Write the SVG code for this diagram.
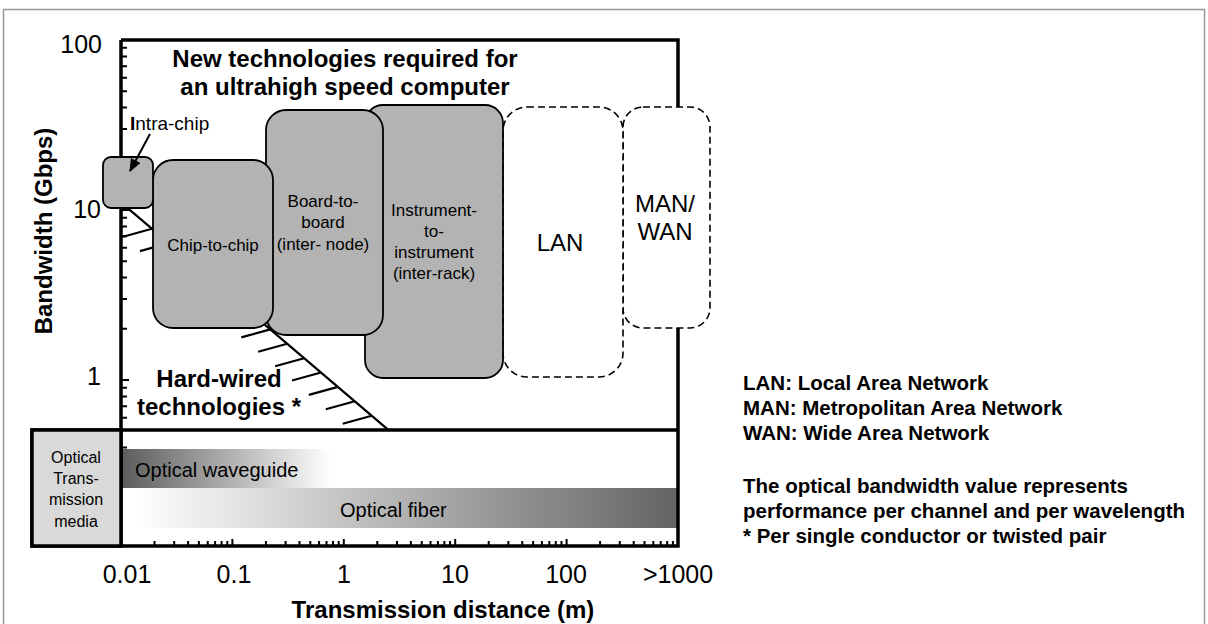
<svg xmlns="http://www.w3.org/2000/svg" width="1208" height="624" viewBox="0 0 1208 624">
  <defs>
    <style>
      text { font-family: "Liberation Sans", Arial, Helvetica, sans-serif; fill: #000; }
      .b { font-weight: bold; }
      .box { fill: #b3b3b3; stroke: #000; stroke-width: 1.8; }
      .dash { fill: #fff; stroke: #000; stroke-width: 1.6; stroke-dasharray: 7 4; }
      .axis { fill: none; stroke: #000; stroke-width: 3.5; }
      .tick { fill: none; stroke: #000; stroke-width: 2; }
      .hatch { fill: none; stroke: #000; stroke-width: 2.2; }
      .lbl { font-size: 17px; }
      .big { font-size: 24px; }
      .num { font-size: 25px; }
      .note { font-size: 20.5px; font-weight: bold; }
    </style>
    <linearGradient id="gWave" x1="0" y1="0" x2="1" y2="0">
      <stop offset="0" stop-color="#5c5c5c"/>
      <stop offset="1" stop-color="#ffffff"/>
    </linearGradient>
    <linearGradient id="gFiber" x1="0" y1="0" x2="1" y2="0">
      <stop offset="0.03" stop-color="#ffffff"/>
      <stop offset="1" stop-color="#636363"/>
    </linearGradient>
    <marker id="arr" markerWidth="13" markerHeight="11" refX="12" refY="5.5" orient="auto" markerUnits="userSpaceOnUse">
      <path d="M0,0 L13,5.5 L0,11 Z" fill="#000"/>
    </marker>
  </defs>

  <!-- outer frame -->
  <rect x="3.5" y="9.5" width="1201" height="630" fill="#fff" stroke="#999" stroke-width="1.5"/>

  <!-- optical media bars -->
  <rect x="121" y="449" width="210" height="39" fill="url(#gWave)"/>
  <rect x="121" y="488" width="556" height="40" fill="url(#gFiber)"/>
  <text x="135" y="477" style="font-size:20px">Optical waveguide</text>
  <text x="340" y="517" style="font-size:20px">Optical fiber</text>

  <!-- y-axis ticks -->
  <path class="tick" d="M121,47.8h6M121,56.5h6M121,66.3h6M121,77.7h6M121,91.2h6M121,107.6h6M121,128.9h6M121,158.8h6M121,210h8M121,217.8h6M121,226.5h6M121,236.3h6M121,247.7h6M121,261.2h6M121,277.6h6M121,298.9h6M121,328.8h6M121,380h8M121,387.8h6M121,396.5h6M121,406.3h6M121,417.7h6M121,447.6h6"/>

  <!-- x-axis ticks -->
  <path class="tick" d="M154.5,546v-5M174.2,546v-5M188.1,546v-5M198.9,546v-5M207.7,546v-5M215.1,546v-5M221.6,546v-5M227.3,546v-5M232.4,546v-7M265.9,546v-5M285.6,546v-5M299.5,546v-5M310.3,546v-5M319.1,546v-5M326.5,546v-5M333,546v-5M338.7,546v-5M343.8,546v-7M377.3,546v-5M397,546v-5M410.9,546v-5M421.7,546v-5M430.5,546v-5M437.9,546v-5M444.4,546v-5M450.1,546v-5M455.2,546v-7M488.7,546v-5M508.4,546v-5M522.3,546v-5M533.1,546v-5M541.9,546v-5M549.3,546v-5M555.8,546v-5M561.5,546v-5M566.6,546v-7M600.1,546v-5M619.8,546v-5M633.7,546v-5M644.5,546v-5M653.3,546v-5M660.7,546v-5M667.2,546v-5M672.9,546v-5"/>

  <!-- plot frame -->
  <path class="axis" d="M121,40H678V546H32V430H678M121,40V546"/>

  <!-- media label box -->
  <g id="optical-media">
    <rect x="32" y="430" width="89" height="116" fill="#d9d9d9" stroke="#000" stroke-width="3.5"/>
    <text x="76" y="463" text-anchor="middle" style="font-size:16px">Optical</text>
    <text x="76" y="484" text-anchor="middle" style="font-size:16px">Trans-</text>
    <text x="76" y="505" text-anchor="middle" style="font-size:16px">mission</text>
    <text x="76" y="527" text-anchor="middle" style="font-size:16px">media</text>
  </g>

  <!-- hard-wired limit with hatching (runs behind the boxes) -->
  <g id="hardwired-limit">
    <path class="hatch" d="M128,208.3L388,429.6" stroke-width="3"/>
    <path class="hatch" d="M152,228.7l-29,8M168.9,243.1l-29,8M270.3,329.4l-29,8M287.2,343.8l-29,8M304.1,358.2l-29,8M321,372.5l-29,8M337.9,386.9l-29,8M354.8,401.3l-29,8M371.7,415.7l-29,8"/>
  </g>

  <!-- network-scale regions -->
  <g id="man-wan">
    <rect x="623" y="107" width="87" height="221" rx="20" class="dash"/>
    <text x="665" y="212" class="big" text-anchor="middle">MAN/</text>
    <text x="665" y="240" class="big" text-anchor="middle">WAN</text>
  </g>
  <g id="lan">
    <rect x="503" y="107" width="120" height="270" rx="24" class="dash"/>
    <text x="560" y="251" class="big" text-anchor="middle">LAN</text>
  </g>
  <g id="instrument-to-instrument">
    <rect x="365" y="105" width="138" height="273" rx="18" class="box"/>
    <text x="434" y="216" class="lbl" text-anchor="middle">Instrument-</text>
    <text x="434" y="237" class="lbl" text-anchor="middle">to-</text>
    <text x="434" y="258" class="lbl" text-anchor="middle">instrument</text>
    <text x="434" y="279" class="lbl" text-anchor="middle">(inter-rack)</text>
  </g>
  <g id="board-to-board">
    <rect x="266" y="110" width="117" height="225" rx="20" class="box"/>
    <text x="323" y="207" class="lbl" text-anchor="middle">Board-to-</text>
    <text x="323" y="228" class="lbl" text-anchor="middle">board</text>
    <text x="323" y="250" class="lbl" text-anchor="middle">(inter- node)</text>
  </g>
  <g id="chip-to-chip">
    <rect x="153" y="160" width="120" height="168" rx="20" class="box"/>
    <text x="213" y="251" class="lbl" text-anchor="middle">Chip-to-chip</text>
  </g>
  <g id="intra-chip">
    <rect x="103" y="157" width="50" height="51" rx="8" class="box"/>
    <text x="130" y="130" style="font-size:19px"><tspan class="b">I</tspan>ntra-chip</text>
  </g>

  <!-- connectors -->
  <g id="connectors">
    <path d="M150,134L130,171" fill="none" stroke="#000" stroke-width="2" marker-end="url(#arr)"/>
  </g>

  <!-- axis labels -->
  <text x="102" y="53" class="num" text-anchor="end">100</text>
  <text x="101" y="218" class="num" text-anchor="end">10</text>
  <text x="101" y="385" class="num" text-anchor="end">1</text>
  <text x="127" y="583" class="num" text-anchor="middle">0.01</text>
  <text x="234" y="583" class="num" text-anchor="middle">0.1</text>
  <text x="344" y="583" class="num" text-anchor="middle">1</text>
  <text x="455" y="583" class="num" text-anchor="middle">10</text>
  <text x="566" y="583" class="num" text-anchor="middle">100</text>
  <text x="678" y="583" class="num" text-anchor="middle">&gt;1000</text>
  <text x="443" y="618" class="big b" text-anchor="middle">Transmission distance (m)</text>
  <text transform="translate(52,231) rotate(-90)" class="big b" text-anchor="middle">Bandwidth (Gbps)</text>

  <!-- headings inside the plot -->
  <text x="345" y="67" class="big b" text-anchor="middle">New technologies required for</text>
  <text x="345" y="95" class="big b" text-anchor="middle">an ultrahigh speed computer</text>
  <text x="219" y="387" class="big b" text-anchor="middle">Hard-wired</text>
  <text x="219" y="415" class="big b" text-anchor="middle">technologies *</text>

  <!-- legend -->
  <text x="743" y="390" class="note">LAN: Local Area Network</text>
  <text x="743" y="415" class="note">MAN: Metropolitan Area Network</text>
  <text x="743" y="440" class="note">WAN: Wide Area Network</text>
  <text x="743" y="493" class="note">The optical bandwidth value represents</text>
  <text x="743" y="518" class="note">performance per channel and per wavelength</text>
  <text x="743" y="543" class="note">* Per single conductor or twisted pair</text>
</svg>
